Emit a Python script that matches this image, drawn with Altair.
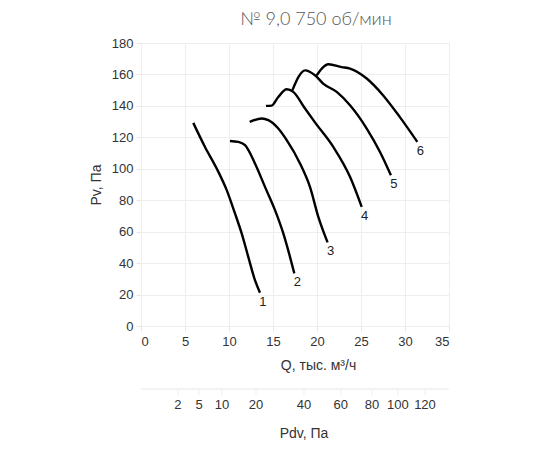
import altair as alt
import pandas as pd

# Curves: Q (тыс. м³/ч) and Pv (Па)
q1 = [5.94, 7.27, 8.6, 9.74, 10.68, 11.44, 12.19, 12.95, 13.52]
p1 = [129.2, 113.9, 100.2, 86.4, 71.6, 58.9, 44.0, 29.2, 21.2]
q2 = [10.11, 11.06, 11.82, 12.95, 14.09, 15.23, 16.17, 16.93, 17.42]
p2 = [117.7, 117.1, 115.0, 103.4, 88.5, 73.7, 58.9, 44.0, 33.5]
q3 = [12.35, 13.72, 14.47, 15.6, 16.56, 18.07, 19.2, 20.15, 21.2]
p3 = [129.8, 132.0, 130.9, 125.6, 118.2, 103.4, 88.5, 69.4, 53.2]
q4 = [14.2, 14.85, 15.6, 16.56, 17.3, 18.64, 19.77, 21.85, 23.75, 25.08]
p4 = [140.0, 140.2, 145.7, 150.6, 148.9, 138.3, 129.5, 113.9, 94.9, 75.8]
q5 = [17.2, 17.9, 18.64, 19.77, 20.7, 22.24, 23.75, 25.65, 27.16, 28.4]
p5 = [149.9, 158.5, 162.6, 159.5, 154.2, 148.9, 140.4, 125.6, 110.7, 95.9]
q6 = [19.97, 20.57, 21.3, 22.8, 23.75, 25.65, 27.5, 29.4, 31.4]
p6 = [159.5, 163.9, 166.5, 164.7, 163.7, 157.4, 146.8, 133.0, 117.1]
curve_names = ["1", "2", "3", "4", "5", "6"]

# Axis tick values
x_ticks = [0, 5, 10, 15, 20, 25, 30, 35]
y_ticks = [0, 20, 40, 60, 80, 100, 120, 140, 160, 180]

# Secondary scale Pdv (labels and their Q positions)
pdv_labels = ["2", "5", "10", "20", "40", "60", "80", "100", "120"]
pdv_q = [4.2, 6.59, 9.2, 13.07, 18.52, 22.7, 26.25, 29.2, 32.27]

qs = [q1, q2, q3, q4, q5, q6]
ps = [p1, p2, p3, p4, p5, p6]
rows = []
ends = []
for name, q, p in zip(curve_names, qs, ps):
    for i, (a, b) in enumerate(zip(q, p)):
        rows.append({"curve": name, "Q": a, "Pv": b, "i": i})
    ends.append({"curve": name, "Q": q[-1], "Pv": p[-1]})
df = pd.DataFrame(rows)
df_end = pd.DataFrame(ends)
df_pdv = pd.DataFrame({"label": pdv_labels, "Q": pdv_q})

FONT = "Liberation Sans"
xs = alt.Scale(domain=[0, 35], nice=False)
ys = alt.Scale(domain=[0, 180], nice=False)

X_AXIS = alt.Axis(
    values=x_ticks, title="Q, тыс. м³/ч",
    grid=True, gridColor="#eeeeee", domain=False, tickColor="#e6e6e6",
    tickSize=5, labelPadding=4, labelFontSize=13, labelColor="#333",
    labelFont=FONT, titleFont=FONT, titleFontSize=14, titleFontWeight="normal",
    titleColor="#333", titlePadding=10, titleX=177, labelOverlap=False)
Y_AXIS = alt.Axis(
    values=y_ticks, title="Pv, Па",
    grid=True, gridColor="#eeeeee", domain=False, tickColor="#e6e6e6",
    tickSize=5, labelPadding=3, labelFontSize=13, labelColor="#333",
    labelFont=FONT, titleFont=FONT, titleFontSize=14, titleFontWeight="normal",
    titleColor="#333", titlePadding=8, labelOverlap=False)

lines = alt.Chart(df).mark_line(
    color="black", strokeWidth=2.4, interpolate="monotone"
).encode(
    x=alt.X("Q:Q", scale=xs, axis=X_AXIS),
    y=alt.Y("Pv:Q", scale=ys, axis=Y_AXIS),
    detail="curve:N",
    order="i:Q",
)

labels = alt.Chart(df_end).mark_text(
    font=FONT, fontSize=13, color="#222", dx=3, dy=9, baseline="middle", align="center"
).encode(x=alt.X("Q:Q", scale=xs, axis=X_AXIS), y=alt.Y("Pv:Q", scale=ys, axis=Y_AXIS),
         text="curve:N")

pdv_line = alt.Chart(pd.DataFrame({"a": [0]})).mark_rule(
    color="#e6e6e6", strokeWidth=1
).encode(x=alt.value(0), x2=alt.value(308), y=alt.value(346))

pdv_ticks = alt.Chart(df_pdv).mark_rule(color="#eeeeee").encode(
    x=alt.X("Q:Q", scale=xs, axis=X_AXIS), y=alt.value(346), y2=alt.value(352)
)

pdv_text = alt.Chart(df_pdv).mark_text(
    font=FONT, fontSize=13, color="#333", baseline="middle"
).encode(x=alt.X("Q:Q", scale=xs, axis=X_AXIS), y=alt.value(362), text="label:N")

pdv_title = alt.Chart(pd.DataFrame({"t": ["Pdv, Па"]})).mark_text(
    font=FONT, fontSize=14, color="#333", baseline="middle"
).encode(x=alt.value(163), y=alt.value(391), text="t:N")

title = alt.Chart(pd.DataFrame({"t": ["№ 9,0  750 об/мин"]})).mark_text(
    font="Lato", fontSize=18, fontWeight=300, color="#555", baseline="middle"
).encode(x=alt.value(175), y=alt.value(-23), text="t:N")

chart = alt.layer(lines, labels, pdv_line, pdv_ticks, pdv_text, pdv_title, title).properties(
    width=308, height=283,
    background="white",
    autosize=alt.AutoSizeParams(type="none"),
    padding={"left": 133, "top": 35, "right": 90, "bottom": 115},
).configure_view(stroke=None)

chart.save("out.html", embed_options={"renderer": "svg", "actions": False})
